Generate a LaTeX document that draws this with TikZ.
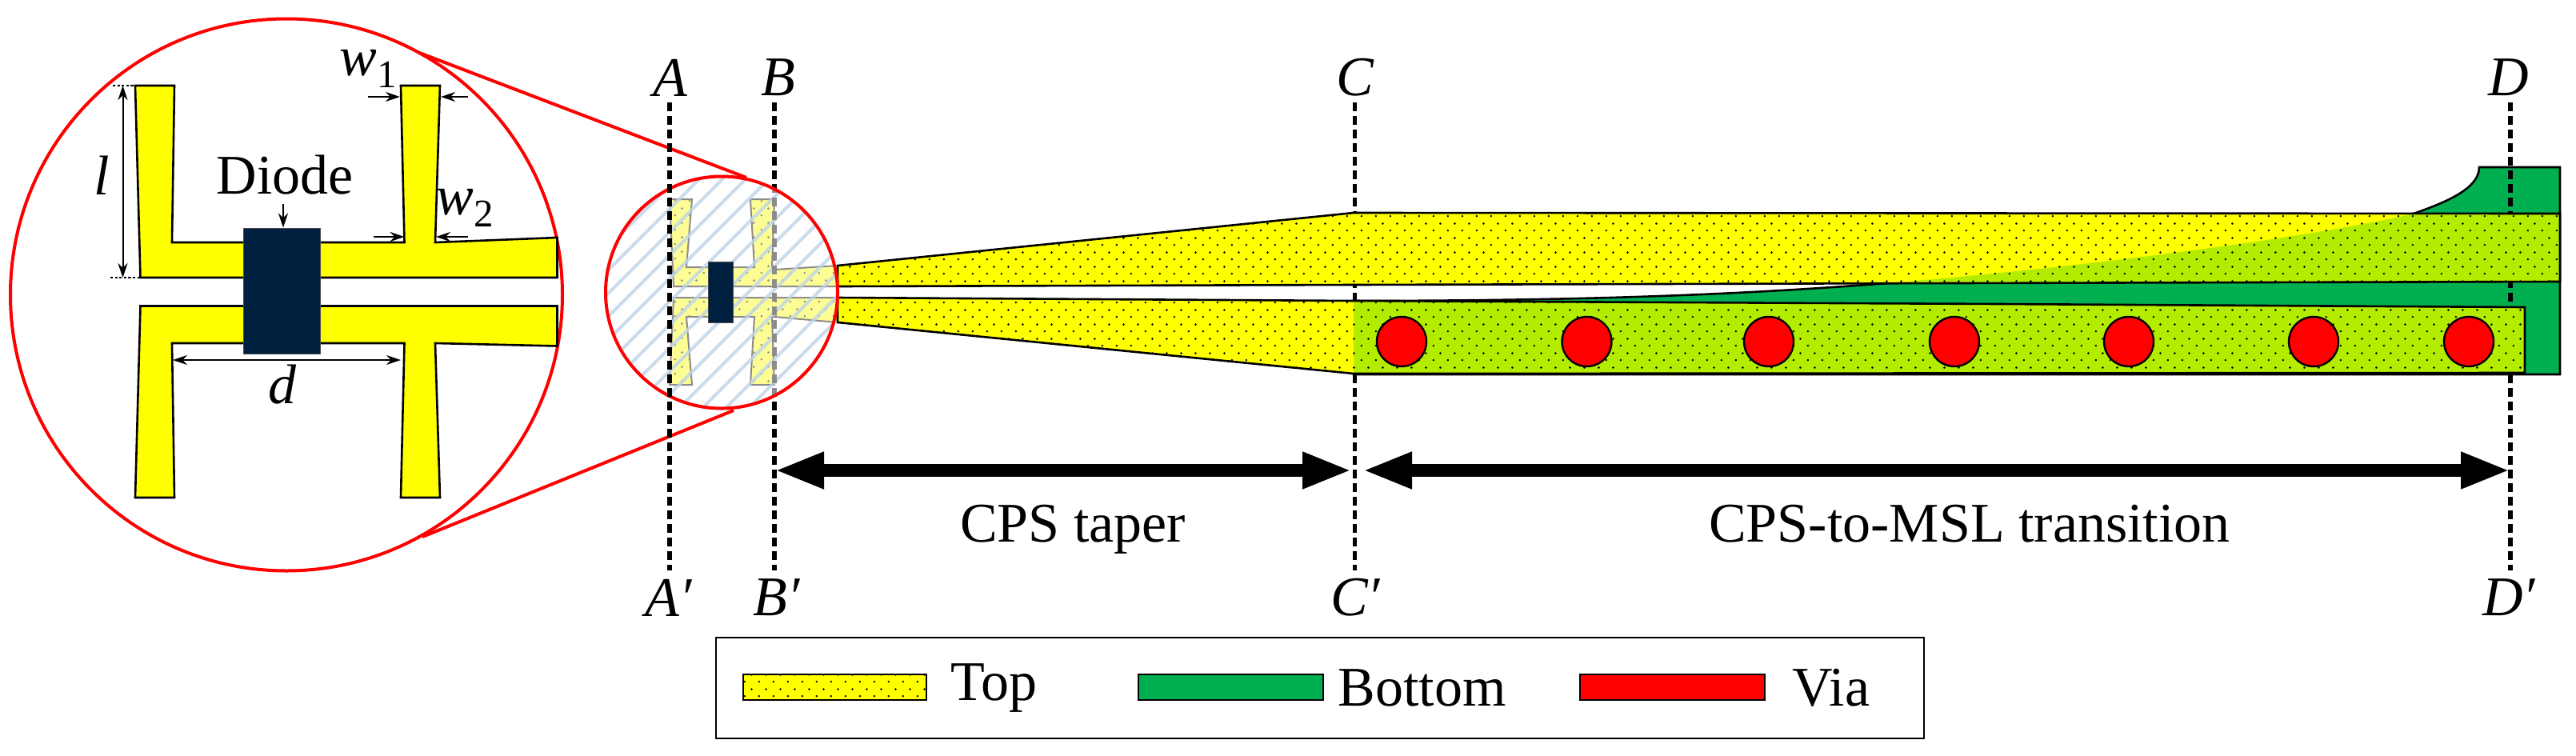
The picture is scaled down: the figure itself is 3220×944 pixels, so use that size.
\documentclass[tikz,border=0pt]{standalone}
\usepackage{fontspec}
\setmainfont{Liberation Serif}
\usetikzlibrary{patterns,arrows.meta}
\pgfdeclarepatternformonly{topdots}{\pgfpointorigin}{\pgfqpoint{8.75pt}{8.75pt}}{\pgfqpoint{8.75pt}{8.75pt}}{%
  \pgfpathcircle{\pgfqpoint{2pt}{2pt}}{.72pt}%
  \pgfpathcircle{\pgfqpoint{6.375pt}{6.375pt}}{.72pt}%
  \pgfusepath{fill}}
\definecolor{topy}{RGB}{255,255,0}
\definecolor{botg}{RGB}{0,176,80}
\definecolor{lime}{RGB}{180,236,0}
\definecolor{diode}{RGB}{0,32,64}
\definecolor{paley}{RGB}{253,253,150}
\definecolor{hatchc}{RGB}{190,212,232}
\tikzset{
  edge/.style={draw=black,line width=1.3pt,line join=miter},
  dims/.style={draw=black,line width=1pt,{Stealth[length=9pt,width=6pt]}-{Stealth[length=9pt,width=6pt]}},
  dimr/.style={draw=black,line width=1pt,-{Stealth[length=9pt,width=6pt]}},
  tick/.style={draw=black,line width=.6pt,dash pattern=on 1.6pt off 1.2pt},
  cut/.style={draw=black,line width=2.8pt,dash pattern=on 5.5pt off 3pt},
  span/.style={draw=black,line width=8pt,{Triangle[length=31pt,width=21pt]}-{Triangle[length=31pt,width=21pt]}},
  lens/.style={draw=red,line width=2pt},
  lbl/.style={inner sep=0pt,font=\fontsize{35}{35}\selectfont,text=black},
  sym/.style={lbl,font=\fontsize{35}{35}\selectfont\itshape},
  via/.style={circle,draw=black,line width=1.2pt,fill=red,minimum size=31pt,inner sep=0pt},
  swatch/.style={draw=black,line width=1.3pt}
}
\newcommand{\mainpath}{(1047,332) -- (1692,266) -- (3200,267) -- (3200,352) -- (1692,356) -- (1047,358) -- cycle
   (1047,372) -- (1692,376) -- (2500,380) -- (3156,384) -- (3156,466) -- (1692,467) -- (1047,403) -- cycle}
\newcommand{\greenpath}{(1692,376) .. controls (1950,376) and (2150,370) .. (2346,355) .. controls (2600,335) and (2900,295) .. (3017,267) .. controls (3060,252) and (3099,235) .. (3099,209) -- (3200,209) -- (3200,468) -- (1692,468) -- cycle}
\newcommand{\bigH}{(169,107) -- (218,107) -- (215,303) -- (505.5,303) -- (501,107) -- (550,107) -- (544,303) -- (696.5,297) -- (696.5,347) -- (175.5,347) -- cycle
   (175.5,382.5) -- (696.5,382.5) -- (696.5,432.5) -- (544,429) -- (550,622) -- (501,622) -- (505.5,429) -- (215,429) -- (218,622) -- (169,622) -- cycle}
\newcommand{\smallH}{(837,249) -- (865,249) -- (858,334) -- (943,334) -- (938,249) -- (968,249) -- (965,334) -- (968,337) -- (1047,332) -- (1047,358) -- (842,358) -- cycle
   (842,372) -- (1047,372) -- (1047,403) -- (968,396) -- (965,396) -- (968,481) -- (938,481) -- (943,396) -- (858,396) -- (865,481) -- (837,481) -- cycle}
\begin{document}
\begin{tikzpicture}[x=0.5pt,y=-0.5pt]
\useasboundingbox (0,0) rectangle (3220,944);
\fill[white] (0,0) rectangle (3220,944);
% named anchors
\coordinate (bigC) at (358,368.5);
\coordinate (smallC) at (902,365.5);
\coordinate (bigT) at (523,65.5);
\coordinate (bigB) at (528,671);
\coordinate (smallT) at (933,222);
\coordinate (smallB) at (917,513);
\coordinate (aT) at (837,128); \coordinate (aB) at (837,713);
\coordinate (bT) at (968,128); \coordinate (bB) at (968,713);
\coordinate (cT) at (1693.5,128); \coordinate (cB) at (1693.5,713);
\coordinate (dT) at (3138,128); \coordinate (dB) at (3138,713);
% magnifier
\draw[lens] (bigC) circle[radius=345];
\draw[lens] (bigT) -- (smallT);
\draw[lens] (bigB) -- (smallB);
% bottom layer
\path[fill=botg,edge] \greenpath;
% cut lines behind the top layer
\draw[cut] (bT) -- (bB);
\draw[cut] (cT) -- (cB);
\draw[cut] (dT) -- (dB);
% top layer
\path[fill=topy] \mainpath;
\begin{scope}
  \clip \greenpath;
  \path[fill=lime] \mainpath;
\end{scope}
\path[pattern=topdots,pattern color=black] \mainpath;
\path[edge] \mainpath;
% vias
\foreach \n/\x in {1/1752,2/1983.5,3/2211,4/2443,5/2661,6/2892,7/3086}
  \node[via] (via\n) at (\x,427) {};
% small view
\begin{scope}
  \clip (smallC) circle[radius=145];
  \fill[white] (smallC) circle[radius=145];
  \path[fill=paley] \smallH;
  \path[pattern=topdots,pattern color=black!45] \smallH;
  \path[draw=black!45,line width=1pt] \smallH;
  \foreach \k in {-12,...,16}
    \draw[hatchc,line width=2pt,opacity=.8] (760+\k*29,512) -- (760+\k*29+300,212);
  \draw[cut,black!45] (bT) -- (bB);
\end{scope}
\node[fill=diode,draw=black!70,line width=.5pt,minimum width=15.5pt,minimum height=38pt,inner sep=0pt] (smallDiode) at (900.5,365.5) {};
\draw[lens] (smallC) circle[radius=145];
\draw[cut] (aT) -- (aB);
% big view
\path[fill=topy,edge] \bigH;
\node[fill=diode,draw=black!70,line width=.5pt,minimum width=48pt,minimum height=78.5pt,inner sep=0pt] (bigDiode) at (352.5,363.5) {};
% dimensions
\coordinate (lT) at (153.5,107); \coordinate (lB) at (153.5,347);
\draw[tick] (141,107) -- (167,107);
\draw[tick] (138,347) -- (175,347);
\draw[dims] (lT) -- (lB);
\node[sym] (lLab) at (127,219) {l};
\coordinate (w1a) at (460,121); \coordinate (w1b) at (500,121);
\coordinate (w1c) at (585,121); \coordinate (w1d) at (551,121);
\draw[dimr] (w1a) -- (w1b);
\draw[dimr] (w1c) -- (w1d);
\node[sym] (w1Lab) at (461,86) {w\textsubscript{\upshape 1}};
\coordinate (w2a) at (467,296); \coordinate (w2b) at (505.5,296);
\coordinate (w2c) at (585,296); \coordinate (w2d) at (545,296);
\draw[dimr] (w2a) -- (w2b);
\draw[dimr] (w2c) -- (w2d);
\node[sym] (w2Lab) at (582,260) {w\textsubscript{\upshape 2}};
\coordinate (dL) at (216,450); \coordinate (dR) at (501,450);
\draw[dims] (dL) -- (dR);
\node[sym] (dLab) at (353,481) {d};
\node[lbl] (diodeLab) at (356,219) {Diode};
\coordinate (diodeTail) at (354,255);
\draw[dimr] (diodeTail) -- (bigDiode.north -| diodeTail);
% cut labels
\node[sym] (aLab) at (838,97) {A};
\node[sym] (bLab) at (973,97) {B};
\node[sym] (cLab) at (1694,97) {C};
\node[sym] (dLab2) at (3136,97) {D};
\node[sym] (a2Lab) at (836,747) {A′};
\node[sym] (b2Lab) at (971,747) {B′};
\node[sym] (c2Lab) at (1694,747) {C′};
\node[sym] (d2Lab) at (3136,747) {D′};
% spans
\coordinate (s1L) at (968,588); \coordinate (s1R) at (1690,588);
\coordinate (s2L) at (1703,588); \coordinate (s2R) at (3138,588);
\draw[span] (s1L) -- (s1R);
\draw[span] (s2L) -- (s2R);
\node[lbl,anchor=base] (taperLab) at (1341,677) {CPS taper};
\node[lbl,anchor=base] (transLab) at (2462,677) {CPS-to-MSL transition};
% legend
\node[draw=black,line width=1.3pt,minimum width=755pt,minimum height=63pt,inner sep=0pt] (legend) at (1650,860) {};
\path[swatch,fill=topy] (929,843) rectangle (1158,875);
\path[pattern=topdots,pattern color=black] (929,843) rectangle (1158,875);
\path[swatch] (929,843) rectangle (1158,875);
\path[swatch,fill=botg] (1423,843) rectangle (1654,875);
\path[swatch,fill=red] (1975,843) rectangle (2206,875);
\node[lbl,anchor=west] (topLab) at (1188,860) {Top};
\node[lbl,anchor=west] (botLab) at (1672,860) {Bottom};
\node[lbl,anchor=west] (viaLab) at (2240,860) {Via};
\end{tikzpicture}
\end{document}
